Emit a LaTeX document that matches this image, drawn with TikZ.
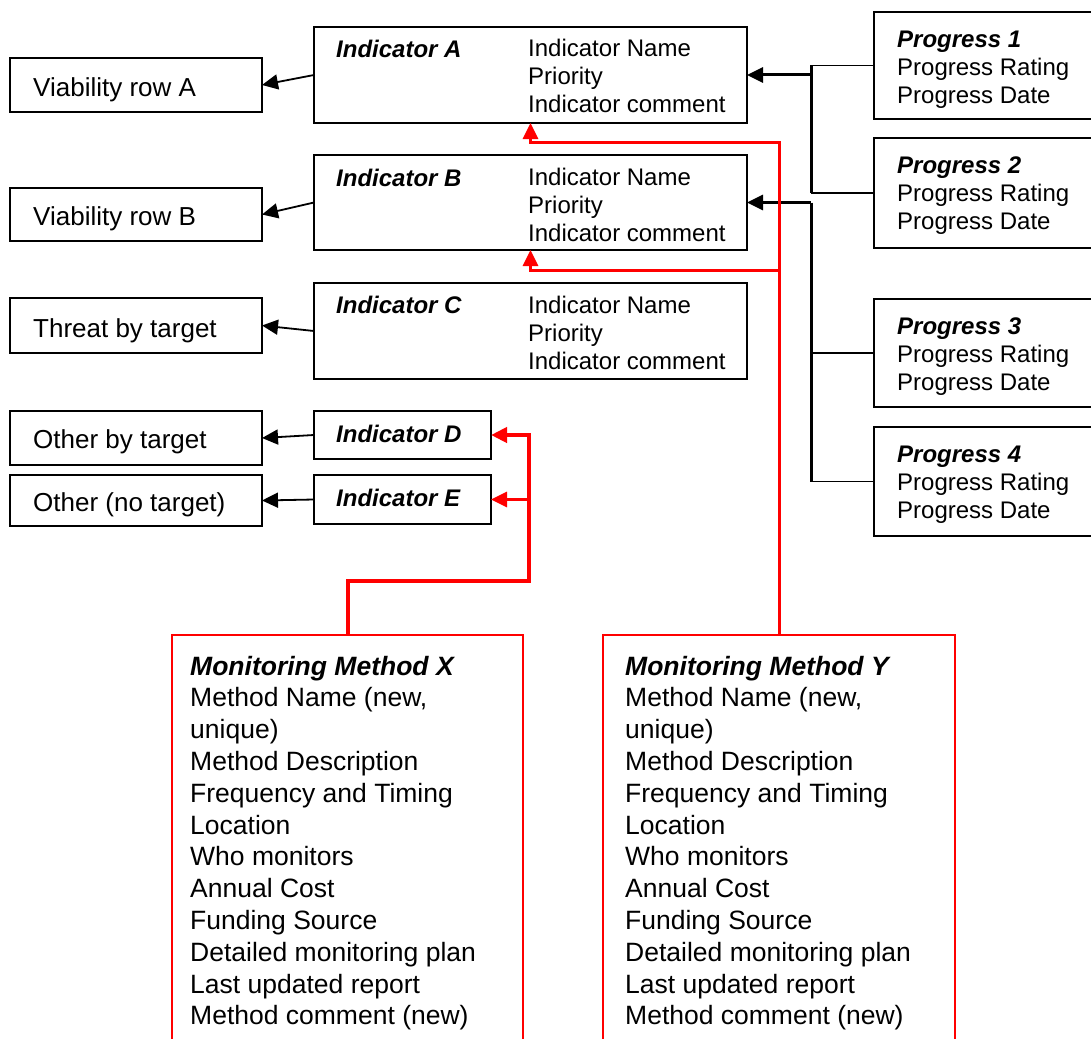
\documentclass[tikz,border=0pt]{standalone}
\usepackage{fontspec}
\setmainfont{Liberation Sans}
\usetikzlibrary{arrows.meta}
\tikzset{
  box/.style={draw, line width=1.6pt, anchor=north west, inner sep=0pt, outer sep=0pt},
  rbox/.style={box, draw=red, line width=1.4pt},
  ttl/.style={anchor=base west, inner sep=0pt, font=\fontsize{24}{28}\selectfont\bfseries\itshape},
  txt/.style={anchor=base west, inner sep=0pt, font=\fontsize{24}{28}\selectfont},
  ltxt/.style={anchor=base west, inner sep=0pt, font=\fontsize{26}{30}\selectfont},
  mttl/.style={anchor=base west, inner sep=0pt, font=\fontsize{26.5}{31}\selectfont\bfseries\itshape},
  mtxt/.style={anchor=base west, inner sep=0pt, font=\fontsize{26.5}{31}\selectfont},
  tip/.style={-{Triangle[length=16pt,width=15pt]}},
  thinarr/.style={tip, line width=1.8pt},
  thickl/.style={line width=3pt},
  thinl/.style={line width=1.6pt},
  redl/.style={draw=red, line width=3pt},
  redx/.style={draw=red, line width=4pt},
  redtip/.style={-{Triangle[length=16pt,width=15pt]}},
}
\begin{document}
\begin{tikzpicture}[x=1pt,y=-1pt]
\useasboundingbox (0,0) rectangle (1091,1038);
\clip (0,0) rectangle (1091,1038);
% left boxes
\node[box, minimum width=252, minimum height=54] (vA) at (10,58) {};
\node[box, minimum width=252, minimum height=53] (vB) at (10,188) {};
\node[box, minimum width=252, minimum height=55] (vC) at (10,298) {};
\node[box, minimum width=252, minimum height=54] (vD) at (10,411) {};
\node[box, minimum width=252, minimum height=51] (vE) at (10,475) {};
\node[ltxt] (vAt) at (33,97) {Viability row A};
\node[ltxt] (vBt) at (33,225) {Viability row B};
\node[ltxt] (vCt) at (33,337) {Threat by target};
\node[ltxt] (vDt) at (33,448) {Other by target};
\node[ltxt] (vEt) at (33,511) {Other (no target)};
% indicators
\node[box, minimum width=433, minimum height=96] (iA) at (314,27) {};
\node[box, minimum width=433, minimum height=95] (iB) at (314,155) {};
\node[box, minimum width=433, minimum height=96] (iC) at (314,283) {};
\node[box, minimum width=177, minimum height=48] (iD) at (314,411) {};
\node[box, minimum width=177, minimum height=49] (iE) at (314,475) {};
\node[ttl] (iAt) at (336,58) {Indicator A};
\node[ttl] (iBt) at (336,186) {Indicator B};
\node[ttl] (iCt) at (336,313) {Indicator C};
\node[ttl] (iDt) at (336,442) {Indicator D};
\node[ttl] (iEt) at (336,506) {Indicator E};
\foreach \b/\y in {A/57,B/185,C/313}{
  \foreach \l [count=\i] in {Indicator Name,Priority,Indicator comment}{
    \node[txt] (i\b l\i) at (528,\y+28*\i-28) {\l};
  }
}
% progress
\node[box, minimum width=240, minimum height=107] (p1) at (874,12) {};
\node[box, minimum width=240, minimum height=110] (p2) at (874,138) {};
\node[box, minimum width=240, minimum height=108] (p3) at (874,299) {};
\node[box, minimum width=240, minimum height=109] (p4) at (874,427) {};
\foreach \n/\t in {1/12,2/138,3/299,4/427}{
  \node[ttl] (p\n t) at (897,\t+35.5) {Progress \n};
  \node[txt] (p\n r) at (897,\t+63.5) {Progress Rating};
  \node[txt] (p\n d) at (897,\t+91) {Progress Date};
}
% monitoring methods
\node[rbox, minimum width=351, minimum height=450] (mX) at (172,635) {};
\node[rbox, minimum width=352, minimum height=450] (mY) at (603,635) {};
\node[mttl] (mXt) at (190,675) {Monitoring Method X};
\node[mttl] (mYt) at (625,675) {Monitoring Method Y};
\foreach \m/\x in {X/190,Y/625}{
  \foreach \l [count=\i] in {{Method Name (new,},unique),Method Description,Frequency and Timing,Location,Who monitors,Annual Cost,Funding Source,Detailed monitoring plan,Last updated report,Method comment (new)}{
    \node[mtxt] (m\m l\i) at (\x,675+31.8*\i) {\l};
  }
}
% indicator -> left boxes
\draw[thinarr] (iA.west) -- (vA.east);
\draw[thinarr] (iB.west) -- (vB.east);
\draw[thinarr] (iC.west) -- (vC.east);
\draw[thinarr] (iD.west) -- (vD.east);
\draw[thinarr] (iE.west) -- (vE.east);
% progress tree 1
\coordinate (j1) at (811,75);
\coordinate (j2) at (811,202.5);
\draw[thinl] (p1.west) -- (p1.west -| j1);
\draw[thinl] (p2.west) -- (p2.west -| j1);
\draw[thickl] (p1.west -| j1) -- (p2.west -| j1);
\draw[thickl, tip] (j1) -- (iA.east);
% progress tree 2
\draw[thickl] (j2) -- (p4.west -| j2);
\draw[thickl, tip] (j2) -- (iB.east);
\draw[thinl] (p3.west) -- (p3.west -| j2);
\draw[thinl] (p4.west) -- (p4.west -| j2);
% red connectors, method Y
\coordinate (rA) at (530.5,142);
\coordinate (rB) at (779,270);
\draw[redl, redtip] (mY.north) |- (rA) -- (iA.south);
\draw[redl, redtip] (rB) -| (iB.south);
% red connectors, method X
\coordinate (rX) at (529,581);
\draw[redx, redtip] (mX.north) |- (rX) |- (iD.east);
\draw[redl, redtip] (iE.east -| rX) -- (iE.east);
\end{tikzpicture}
\end{document}
